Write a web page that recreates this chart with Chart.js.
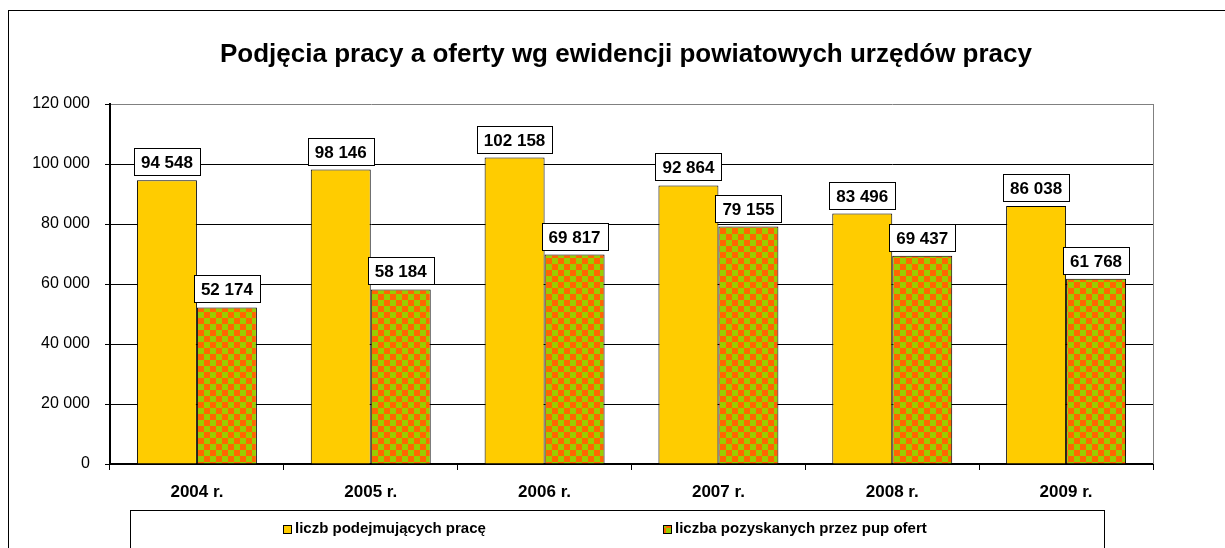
<!DOCTYPE html>
<html>
<head>
<meta charset="utf-8">
<script src="https://cdn.jsdelivr.net/npm/chart.js@4.4.0/dist/chart.umd.min.js"></script>
<style>
  html, body { margin: 0; padding: 0; background: #fff; overflow: hidden; }
  #frame { position: absolute; left: 8px; top: 10px; width: 1300px; height: 700px; border: 1px solid #000; box-sizing: border-box; }
  #wrap { position: absolute; left: 0; top: 0; width: 1225px; height: 548px; }
</style>
</head>
<body>
<div id="frame"></div>
<div id="wrap"><canvas id="chart" width="1225" height="548"></canvas></div>
<script>
// --- data ---------------------------------------------------------
const years = ['2004 r.', '2005 r.', '2006 r.', '2007 r.', '2008 r.', '2009 r.'];
const hired = [94548, 98146, 102158, 92864, 83496, 86038];   // liczb podejmujących pracę
const offers = [52174, 58184, 69817, 79155, 69437, 61768];   // liczba pozyskanych przez pup ofert
const seriesNames = ['liczb podejmujących pracę', 'liczba pozyskanych przez pup ofert'];
const yMax = 120000;
const yStep = 20000;
const chartTitle = 'Podjęcia pracy a oferty wg ewidencji powiatowych urzędów pracy';

const FONT = '"Liberation Sans", Arial, sans-serif';

// space as thousands separator, e.g. 102 158
const fmt = v => String(v).replace(/\B(?=(\d{3})+(?!\d))/g, ' ');

// orange / green checkerboard fill for the second series
function makeChecker(cell) {
  const c = document.createElement('canvas');
  c.width = cell * 2; c.height = cell * 2;
  const g = c.getContext('2d');
  g.fillStyle = '#99CC00'; g.fillRect(0, 0, cell * 2, cell * 2);
  g.fillStyle = '#FF6600';
  g.fillRect(0, 0, cell, cell);
  g.fillRect(cell, cell, cell, cell);
  return g.createPattern(c, 'repeat');
}
const checker = makeChecker(6);

// --- plugins ------------------------------------------------------
// title, centred on the outer frame rather than the plot
const frameTitle = {
  id: 'frameTitle',
  afterDraw(chart, args, opts) {
    const ctx = chart.ctx;
    ctx.save();
    ctx.font = 'bold 26px ' + FONT;
    ctx.fillStyle = '#000';
    ctx.textAlign = 'center';
    ctx.textBaseline = 'middle';
    ctx.fillText(opts.text, opts.x, opts.y);
    ctx.restore();
  }
};

// boxed value labels above every bar
const valueLabels = {
  id: 'valueLabels',
  afterDatasetsDraw(chart) {
    const ctx = chart.ctx;
    ctx.save();
    ctx.font = 'bold 17px ' + FONT;
    ctx.textAlign = 'center';
    ctx.textBaseline = 'middle';
    chart.data.datasets.forEach((ds, di) => {
      chart.getDatasetMeta(di).data.forEach((bar, i) => {
        const txt = fmt(ds.data[i]);
        const w = Math.round(ctx.measureText(txt).width + 14), h = 27;
        const x = Math.round(bar.x - w / 2) + 0.5;
        const y = Math.round(bar.y - 5 - h) + 0.5;
        ctx.fillStyle = '#fff';
        ctx.fillRect(x, y, w, h);
        ctx.strokeStyle = '#000';
        ctx.lineWidth = 1;
        ctx.strokeRect(x, y, w, h);
        ctx.fillStyle = '#000';
        ctx.fillText(txt, bar.x, y + h / 2 + 1);
      });
    });
    ctx.restore();
  }
};

// grey right edge of the plot area
const plotFrame = {
  id: 'plotFrame',
  beforeDatasetsDraw(chart) {
    const { ctx, chartArea: a } = chart;
    ctx.save();
    ctx.strokeStyle = '#808080';
    ctx.lineWidth = 1;
    ctx.beginPath();
    ctx.moveTo(Math.round(a.right) + 0.5, a.top);
    ctx.lineTo(Math.round(a.right) + 0.5, a.bottom);
    ctx.stroke();
    ctx.restore();
  }
};

// framed legend under the axis (Excel-like)
const boxLegend = {
  id: 'boxLegend',
  afterDraw(chart, args, opts) {
    const ctx = chart.ctx;
    ctx.save();
    ctx.strokeStyle = '#000';
    ctx.lineWidth = 1;
    ctx.strokeRect(opts.left + 0.5, opts.top + 0.5, opts.right - opts.left, 100);
    ctx.font = 'bold 15px ' + FONT;
    ctx.textBaseline = 'middle';
    chart.data.datasets.forEach((ds, i) => {
      const x = opts.left + opts.itemX[i];
      const cy = opts.top + 19;
      ctx.fillStyle = ds.backgroundColor;
      ctx.fillRect(x, cy - 4, 8, 8);
      ctx.strokeRect(x + 0.5, cy - 4 + 0.5, 8, 8);
      ctx.fillStyle = '#000';
      ctx.fillText(ds.label, x + 12, cy);
    });
    ctx.restore();
  }
};

// --- chart --------------------------------------------------------
const ctx = document.getElementById('chart').getContext('2d');

new Chart(ctx, {
  type: 'bar',
  data: {
    labels: years,
    datasets: [
      {
        label: seriesNames[0],
        data: hired,
        backgroundColor: '#FFCC00',
        borderColor: '#000',
        borderWidth: 1,
        barPercentage: 1,
        categoryPercentage: 0.69
      },
      {
        label: seriesNames[1],
        data: offers,
        backgroundColor: checker,
        borderColor: '#000',
        borderWidth: 1,
        barPercentage: 1,
        categoryPercentage: 0.69
      }
    ]
  },
  options: {
    responsive: false,
    animation: false,
    layout: { padding: { left: 0, right: 72, top: 104, bottom: 44 } },
    plugins: {
      legend: { display: false },
      tooltip: { enabled: false },
      title: { display: false },
      frameTitle: { text: chartTitle, x: 626, y: 55 },
      boxLegend: { left: 130, top: 510, right: 1104, itemX: [153, 533] }
    },
    scales: {
      x: {
        offset: true,
        border: { color: '#000', width: 2 },
        grid: { offset: true, drawOnChartArea: false, drawTicks: true, tickLength: 6, color: '#000' },
        ticks: { color: '#000', padding: 12, font: { family: FONT, size: 17, weight: 'bold' } },
        afterFit: s => { s.height = 40; }
      },
      y: {
        min: 0,
        max: yMax,
        border: { color: '#000', width: 2 },
        grid: {
          color: c => (c.tick && c.tick.value === yMax ? '#808080' : '#000'),
          tickColor: '#000',
          tickLength: 5,
          lineWidth: 1
        },
        ticks: {
          stepSize: yStep,
          color: '#000',
          padding: 15,
          font: { family: FONT, size: 16 },
          callback: v => fmt(v)
        },
        afterFit: s => { s.width = 110; }
      }
    }
  },
  plugins: [plotFrame, valueLabels, boxLegend, frameTitle]
});
</script>
</body>
</html>
